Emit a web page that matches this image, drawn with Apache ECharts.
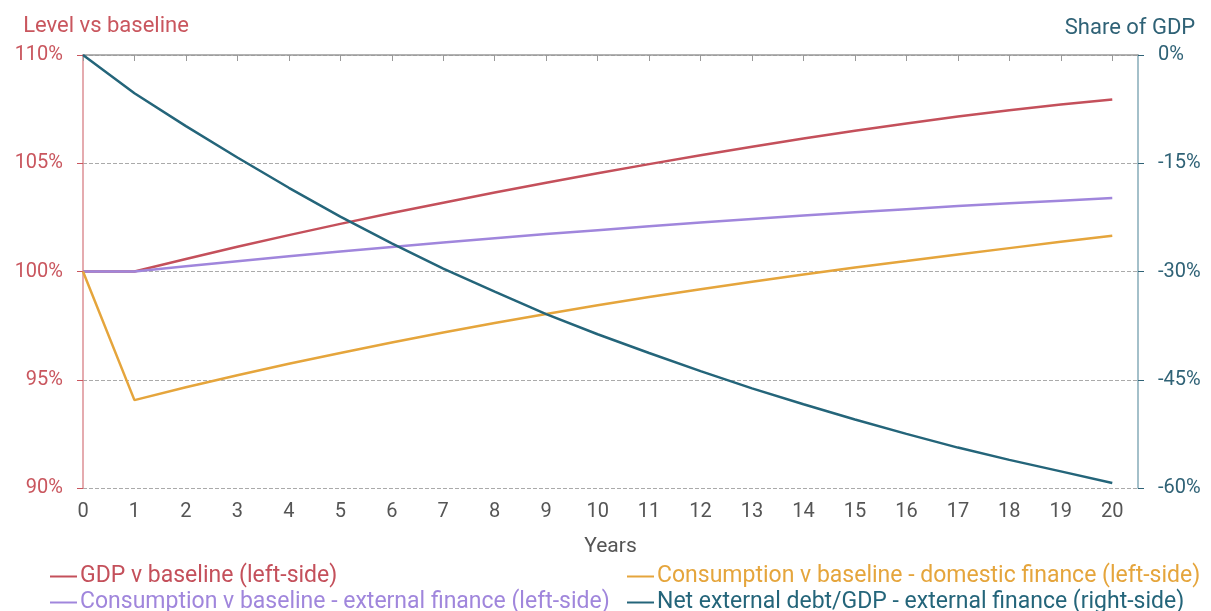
<!DOCTYPE html>
<html>
<head>
<meta charset="utf-8">
<script src="https://cdn.jsdelivr.net/npm/echarts@6/dist/echarts.min.js"></script>
<style>
  html, body { margin: 0; padding: 0; background: #fff; }
  #chart { width: 1211px; height: 611px; }
</style>
</head>
<body>
<div id="chart"></div>
<script>
const years = [0, 1, 2, 3, 4, 5, 6, 7, 8, 9, 10, 11, 12, 13, 14, 15, 16, 17, 18, 19, 20];

// left axis, level vs baseline (%)
const gdpBaseline = [100, 100, 100.58, 101.14, 101.68, 102.20, 102.70, 103.18, 103.65, 104.10, 104.54,
    104.96, 105.37, 105.76, 106.14, 106.50, 106.84, 107.16, 107.45, 107.71, 107.95];
const consExternal = [100, 100, 100.24, 100.47, 100.70, 100.92, 101.13, 101.34, 101.54, 101.73, 101.91,
    102.09, 102.26, 102.43, 102.59, 102.74, 102.88, 103.02, 103.15, 103.27, 103.39];
const consDomestic = [100, 94.06, 94.65, 95.21, 95.74, 96.24, 96.72, 97.18, 97.62, 98.04, 98.44,
    98.82, 99.18, 99.53, 99.86, 100.18, 100.48, 100.79, 101.08, 101.37, 101.65];

// right axis, share of GDP (%)
const netDebt = [0, -5.3, -9.85, -14.2, -18.4, -22.4, -26.1, -29.6, -32.8, -35.9, -38.7,
    -41.3, -43.8, -46.2, -48.4, -50.5, -52.5, -54.4, -56.1, -57.7, -59.3];

const seriesNames = [
    'GDP v baseline (left-side)',
    'Consumption v baseline - external finance (left-side)',
    'Consumption v baseline - domestic finance (left-side)',
    'Net external debt/GDP - external finance (right-side)'
];
const colors = ['#c4505b', '#a086dc', '#e5a53c', '#24657a'];

const chart = echarts.init(document.getElementById('chart'));

function pairs(values) {
    return years.map((y, i) => [y, values[i]]);
}

function lineSeries(idx, values, axisIdx) {
    return {
        name: seriesNames[idx],
        type: 'line',
        yAxisIndex: axisIdx,
        data: pairs(values),
        showSymbol: false,
        symbol: 'none',
        lineStyle: { color: colors[idx], width: 2.5 },
        itemStyle: { color: colors[idx] },
        z: 3
    };
}

function legendBlock(left, idxs) {
    return {
        left: left,
        top: 565,
        height: 60,
        padding: 0,
        orient: 'vertical',
        itemGap: 3,
        itemWidth: 27,
        itemHeight: 2,
        icon: 'rect',
        textStyle: { fontSize: 23, lineHeight: 22, padding: [0, 0, 0, -2] },
        data: idxs.map(i => ({ name: seriesNames[i], textStyle: { color: colors[i] } }))
    };
}

const option = {
    animation: false,
    textStyle: { fontFamily: 'Roboto, sans-serif' },
    grid: { left: 83, right: 73, top: 55, bottom: 123 },
    legend: [legendBlock(50, [0, 1]), legendBlock(627, [2, 3])],
    xAxis: {
        type: 'value',
        min: 0,
        max: 20.5,
        interval: 1,
        name: 'Years',
        nameLocation: 'middle',
        nameGap: 48,
        nameTextStyle: { fontSize: 21, color: '#555' },
        axisLine: { lineStyle: { color: '#999', width: 1.5 } },
        axisTick: { show: true, length: 6, lineStyle: { color: '#999' }, customValues: years },
        axisLabel: { fontSize: 20, color: '#555', margin: 14, customValues: years },
        splitLine: { show: false }
    },
    yAxis: [
        {
            type: 'value',
            position: 'left',
            min: 90,
            max: 110,
            interval: 5,
            name: 'Level vs baseline',
            nameLocation: 'end',
            nameGap: 18,
            nameTextStyle: { fontSize: 22, color: '#c9565e', align: 'center', padding: [0, 0, 0, 46] },
            axisLine: { show: true, lineStyle: { color: '#dc8f95', width: 1.5 } },
            axisTick: { show: true, length: 6, lineStyle: { color: '#c9565e' } },
            axisLabel: { fontSize: 20, color: '#c9565e', margin: 20, formatter: '{value}%' },
            splitLine: { show: true, lineStyle: { type: 'dashed', color: '#aaa', width: 1 } }
        },
        {
            type: 'value',
            position: 'right',
            min: -60,
            max: 0,
            interval: 15,
            name: 'Share of GDP',
            nameLocation: 'end',
            nameGap: 16,
            nameTextStyle: { fontSize: 22, color: '#2f6276', align: 'center', padding: [0, 16, 0, 0] },
            axisLine: { show: true, lineStyle: { color: '#86abb8', width: 1.5 } },
            axisTick: { show: true, length: 6, lineStyle: { color: '#2f6276' } },
            axisLabel: { fontSize: 20, color: '#2f6276', margin: 20, formatter: '{value}%' },
            splitLine: { show: false }
        }
    ],
    series: [
        lineSeries(0, gdpBaseline, 0),
        lineSeries(1, consExternal, 0),
        lineSeries(2, consDomestic, 0),
        lineSeries(3, netDebt, 1)
    ]
};

chart.setOption(option);
</script>
</body>
</html>
